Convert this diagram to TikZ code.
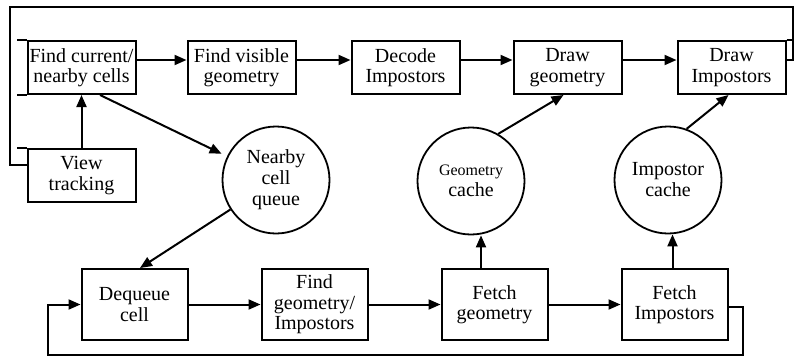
\documentclass[tikz,border=0pt]{standalone}
\usepackage{fontspec}
\setmainfont{Liberation Serif}
\usetikzlibrary{arrows.meta, positioning}
\tikzstyle{stage} = [rectangle, draw, line width=1pt, align=center, minimum width=54pt, minimum height=26.5pt, inner sep=1pt, font=\fontsize{10}{10.2}\selectfont]
\tikzstyle{task} = [stage, minimum width=53pt, minimum height=35.5pt]
\tikzstyle{store} = [circle, draw, line width=0.9pt, minimum size=53.5pt, inner sep=0pt, align=center, font=\fontsize{10}{10.5}\selectfont]
\tikzstyle{flow} = [line width=1pt, -{Triangle[length=6pt, width=5pt]}]
\tikzstyle{feedback} = [line width=1pt]
\tikzstyle{stub} = [line width=1pt]

\begin{document}
\begin{tikzpicture}[x=0.5pt, y=-0.5pt]
	\useasboundingbox (0,0) rectangle (802,359);

	% Frame loop
	\node (find) [stage] at (81.5,67.5) {Find current/\\nearby cells};
	\node (visible) [stage, right=25pt of find] {Find visible\\geometry};
	\node (decode) [stage, right=27pt of visible] {Decode\\Impostors};
	\node (drawgeo) [stage, right=26pt of decode] {Draw\\geometry};
	\node (drawimp) [stage, right=27pt of drawgeo] {Draw\\Impostors};
	\node (view) [stage, below=26.5pt of find] {View\\tracking};

	% Prefetch loop
	\node (dequeue) [task] at (134.5,304.5) {Dequeue\\cell};
	\node (findgeo) [task, right=36pt of dequeue] {Find\\geometry/\\Impostors};
	\node (fetchgeo) [task, right=36pt of findgeo] {Fetch\\geometry};
	\node (fetchimp) [task, right=36pt of fetchgeo] {Fetch\\Impostors};

	% Queue and caches
	\node (queue) [store] at (276,180) {Nearby\\cell\\queue};
	\node (geocache) [store] at (471,181) {{\fontsize{8}{9}\selectfont Geometry}\\cache};
	\node (impcache) [store] at (668,180) {Impostor\\cache};

	\coordinate (topright) at (793,7);
	\coordinate (topleft) at (10,7);
	\coordinate (loopright) at (743,355);
	\coordinate (loopleft) at (48,355);

	% Arrows - frame
	\foreach \a/\b in {find/visible, visible/decode, decode/drawgeo, drawgeo/drawimp}
		\draw[flow] ([yshift=3.75pt]\a.east) -- ([yshift=3.75pt]\b.west);
	\draw[flow] (view) -- (find);
	\draw[feedback] ([yshift=3.75pt]drawimp.east) -| (topright) -- (topleft) |- ([yshift=5.25pt]view.west);
	\draw[stub] (find.north west) -- ++(-10,0);
	\draw[stub] (find.south west) -- ++(-10,0);
	\draw[stub] (view.north west) -- ++(-10,0);
	\draw[stub] (drawimp.north east) -- (topright |- drawimp.north east);

	% Arrows - queue
	\draw[flow, shorten >=3pt] ([xshift=9.25pt]find.south) -- (queue);
	\draw[flow] (queue) -- ([xshift=2.75pt]dequeue.north);

	% Arrows - prefetch
	\foreach \a/\b in {dequeue/findgeo, findgeo/fetchgeo, fetchgeo/fetchimp}
		\draw[flow] (\a) -- (\b);
	\draw[flow] ([yshift=-1pt]fetchimp.east) -| (loopright) -- (loopleft) |- (dequeue.west);

	% Arrows - caches
	\draw[flow] ([xshift=-6.75pt]fetchgeo.north) -- ([xshift=-6.75pt]fetchgeo.north |- geocache.south);
	\draw[flow] ([xshift=-1pt]fetchimp.north) -- ([xshift=-1pt]fetchimp.north |- impcache.south);
	\draw[flow] (geocache.60) -- ([xshift=-2pt]drawgeo.south);
	\draw[flow] (impcache.70) -- ([xshift=-1.5pt]drawimp.south);

\end{tikzpicture}
\end{document}
